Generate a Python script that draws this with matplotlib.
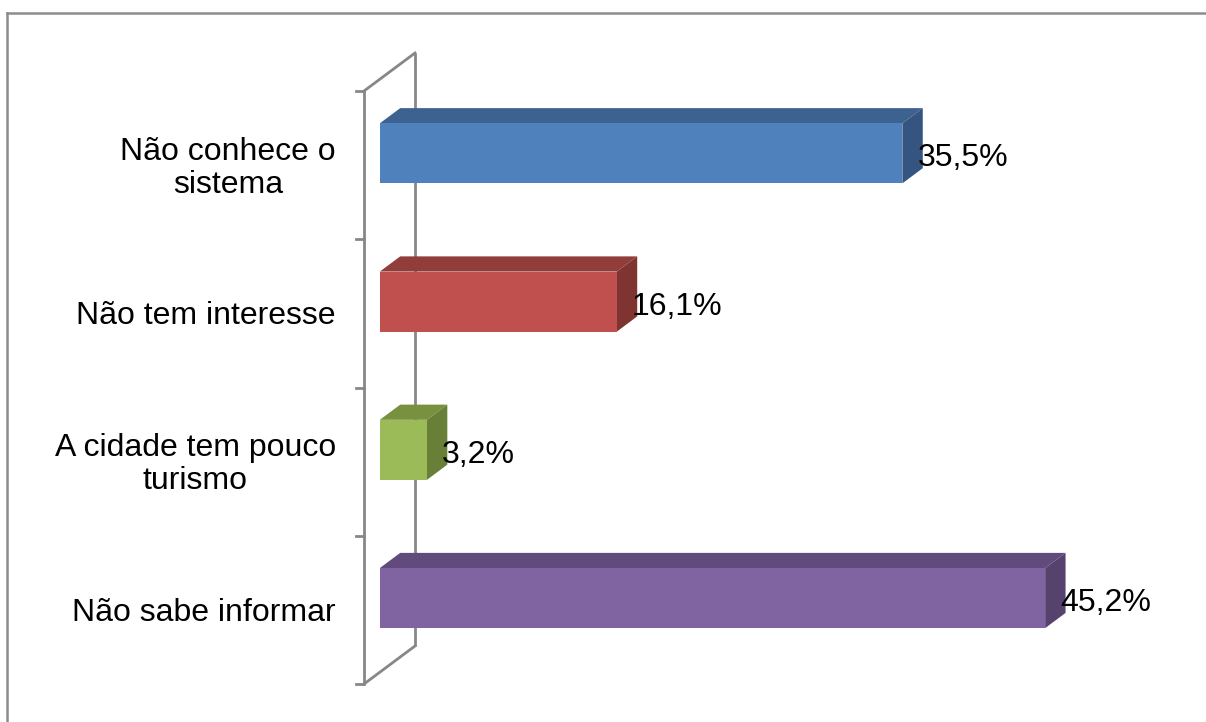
import matplotlib
matplotlib.use("Agg")
import matplotlib.pyplot as plt
from matplotlib.patches import Polygon
from matplotlib.lines import Line2D

plt.rcParams['font.family'] = ['Liberation Sans', 'DejaVu Sans']

categories = ["Não conhece o\nsistema", "Não tem interesse",
              "A cidade tem pouco\nturismo", "Não sabe informar"]
values = [35.5, 16.1, 3.2, 45.2]
value_labels = ["35,5%", "16,1%", "3,2%", "45,2%"]
front_colors = ["#4F81BD", "#C0504D", "#9BBB59", "#8064A2"]
top_colors = ["#3D6290", "#913D3A", "#77913F", "#614B7C"]
side_colors = ["#355580", "#7F3432", "#687F37", "#55426D"]

W, H = 1206, 722
fig = plt.figure(figsize=(W / 100, H / 100), dpi=100)
ax = fig.add_axes([0, 0, 1, 1])

# pixel geometry -> data limits
px_per_pct = 14.72
px_per_cat = 148.25
x0_px = 364.0      # value 0 at wall front
ytop_px = 91.0     # top of category band at wall front
ax.set_xlim(-x0_px / px_per_pct, (W - x0_px) / px_per_pct)
ax.set_ylim(-0.5 + (H - ytop_px) / px_per_cat, -0.5 - ytop_px / px_per_cat)
ax.axis('off')

DX = 51 / px_per_pct       # full depth offset in x (data units)
DY = -38 / px_per_cat      # full depth offset in y (data units)
f_front, f_back = 0.31, 0.71
bar_h = 0.405

wall_c = "#878787"
wall_lw = 2.0
n = len(categories)
y_lo, y_hi = -0.5, n - 0.5
# wall
ax.plot([0, 0], [y_lo, y_hi], color=wall_c, lw=wall_lw, zorder=1, solid_capstyle='butt')
ax.plot([DX, DX], [y_lo + DY, y_hi + DY], color=wall_c, lw=wall_lw, zorder=1, solid_capstyle='butt')
ax.plot([0, DX], [y_lo, y_lo + DY], color=wall_c, lw=wall_lw, zorder=1)
ax.plot([0, DX], [y_hi, y_hi + DY], color=wall_c, lw=wall_lw, zorder=1)
for k in range(n + 1):
    yb = -0.5 + k
    ax.plot([-8 / px_per_pct, 0], [yb, yb], color=wall_c, lw=wall_lw, zorder=1)

for i, (v, lab) in enumerate(zip(values, value_labels)):
    xf0, xf1 = f_front * DX, v + f_front * DX
    xb0, xb1 = f_back * DX, v + f_back * DX
    yft, yfb = i - bar_h / 2 + f_front * DY, i + bar_h / 2 + f_front * DY
    ybt, ybb = i - bar_h / 2 + f_back * DY, i + bar_h / 2 + f_back * DY
    top = Polygon([(xf0, yft), (xf1, yft), (xb1, ybt), (xb0, ybt)],
                  closed=True, facecolor=top_colors[i], edgecolor='none', zorder=3)
    side = Polygon([(xf1, yft), (xb1, ybt), (xb1, ybb), (xf1, yfb)],
                   closed=True, facecolor=side_colors[i], edgecolor='none', zorder=3)
    front = Polygon([(xf0, yft), (xf1, yft), (xf1, yfb), (xf0, yfb)],
                    closed=True, facecolor=front_colors[i], edgecolor='none', zorder=4)
    for p in (top, side, front):
        ax.add_patch(p)
    ax.annotate(lab, xy=(xf1, i + f_front * DY), xytext=(15, -5),
                textcoords='offset pixels', ha='left', va='center',
                fontsize=23, color='black', zorder=5)
    ax.annotate(categories[i], xy=(0, i), xytext=(-28, -3),
                textcoords='offset pixels', ha='right', va='center',
                multialignment='center', fontsize=23, color='black',
                linespacing=1.12)

# chart border (top and left visible)
fig.add_artist(Line2D([7 / W, 1], [1 - 13 / H, 1 - 13 / H], transform=fig.transFigure,
                      color="#8C8C8C", lw=1.8))
fig.add_artist(Line2D([7 / W, 7 / W], [1 - 13 / H, 0], transform=fig.transFigure,
                      color="#8C8C8C", lw=1.8))

fig.savefig("out.png", dpi=100)
